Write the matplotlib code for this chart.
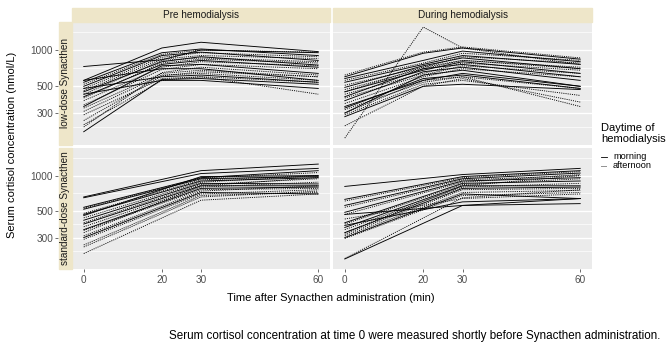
import matplotlib.pyplot as plt
from matplotlib.lines import Line2D
from matplotlib.patches import Rectangle

plt.rcParams["font.family"] = ["Liberation Sans", "DejaVu Sans"]

# time points (min)
t_low = [0, 20, 30, 60]
t_std = [0, 30, 60]

# low-dose, pre hemodialysis: [t0, t20, t30, t60]
pre_low = [
    [730, 830, 1000, 950], [560, 1040, 1160, 970], [540, 950, 1020, 900],
    [520, 920, 1000, 960], [500, 900, 960, 820], [480, 870, 950, 880],
    [460, 840, 900, 850], [450, 800, 880, 750], [430, 820, 860, 800],
    [410, 760, 820, 720], [400, 780, 840, 780], [380, 720, 800, 740],
    [560, 700, 700, 560], [350, 690, 760, 700], [330, 640, 680, 600],
    [480, 600, 620, 540], [310, 620, 640, 560], [290, 580, 600, 540],
    [430, 560, 560, 480], [260, 610, 660, 600], [240, 560, 600, 430],
    [210, 570, 580, 520], [230, 650, 720, 620], [340, 740, 760, 640],
]
pre_low_daytime = ["m", "m", "m", "a", "m", "a", "a", "m", "a", "m", "a", "a",
                   "m", "a", "a", "m", "a", "a", "m", "a", "a", "m", "a", "m"]

# low-dose, during hemodialysis
dur_low = [
    [620, 960, 1060, 860], [600, 940, 1040, 840], [580, 820, 980, 800],
    [560, 780, 940, 820], [540, 760, 900, 760], [510, 720, 880, 780],
    [490, 740, 860, 700], [470, 700, 820, 720], [450, 680, 800, 640],
    [430, 640, 780, 680], [410, 700, 760, 600], [400, 620, 740, 640],
    [380, 660, 720, 560], [360, 600, 700, 600], [340, 560, 640, 500],
    [320, 540, 600, 480], [300, 620, 680, 500], [290, 520, 560, 420],
    [280, 500, 520, 470], [235, 500, 580, 370], [186, 1550, 1040, 760],
    [300, 560, 600, 340], [330, 580, 620, 480], [450, 720, 820, 700],
]
dur_low_daytime = ["a", "m", "m", "a", "m", "a", "m", "a", "m", "a", "m", "a",
                   "m", "a", "m", "a", "m", "a", "m", "a", "a", "a", "m", "a"]

# standard-dose, pre hemodialysis: [t0, t30, t60]
pre_std = [
    [660, 1100, 1250], [650, 1040, 1150], [540, 960, 1100], [530, 950, 1060],
    [520, 940, 980], [480, 920, 1000], [470, 900, 960], [440, 880, 1000],
    [420, 860, 850], [400, 840, 940], [390, 820, 820], [370, 800, 880],
    [350, 780, 800], [345, 760, 780], [310, 740, 820], [300, 720, 700],
    [290, 700, 760], [260, 680, 720], [250, 660, 740], [220, 620, 700],
    [460, 980, 1000], [330, 820, 960],
]
pre_std_daytime = ["m", "m", "m", "a", "m", "a", "m", "a", "m", "a", "m",
                   "a", "m", "a", "a", "m", "a", "a", "a", "a", "m", "a"]

# standard-dose, during hemodialysis
dur_std = [
    [810, 1020, 1150], [630, 980, 1100], [610, 960, 1080], [560, 940, 1050],
    [540, 920, 1000], [490, 900, 960], [470, 880, 1020], [400, 860, 900],
    [390, 840, 940], [365, 820, 820], [350, 800, 860], [330, 780, 800],
    [320, 760, 780], [310, 720, 750], [300, 700, 640], [295, 680, 720],
    [198, 560, 580], [200, 650, 760], [470, 560, 640], [430, 640, 700],
    [380, 600, 640], [330, 820, 1000],
]
dur_std_daytime = ["m", "m", "a", "m", "a", "m", "a", "m", "a", "m", "a",
                   "m", "a", "a", "m", "a", "m", "a", "m", "a", "m", "a"]

col_titles = ["Pre hemodialysis", "During hemodialysis"]
row_titles = ["low-dose Synacthen", "standard-dose Synacthen"]
legend_labels = ["morning", "afternoon"]
y_breaks = [300, 500, 1000]
y_minor = [232, 387, 707, 1414]
x_breaks = [0, 20, 30, 60]

W, H = 669, 347
fig = plt.figure(figsize=(W / 100, H / 100), dpi=100)

panel_x = [(72, 330), (333, 592)]
panel_y = [(22, 145), (148, 269)]
strip_fill = "#EEE6C9"
styles = {"m": "-", "a": (0, (1.2, 1.2))}

panels = [
    [(t_low, pre_low, pre_low_daytime), (t_low, dur_low, dur_low_daytime)],
    [(t_std, pre_std, pre_std_daytime), (t_std, dur_std, dur_std_daytime)],
]

for r in range(2):
    for c in range(2):
        x0, x1 = panel_x[c]
        y0, y1 = panel_y[r]
        ax = fig.add_axes([x0 / W, 1 - y1 / H, (x1 - x0) / W, (y1 - y0) / H])
        ax.set_facecolor("#EBEBEB")
        ax.set_yscale("log")
        ax.set_ylim(163, 1708)
        ax.set_xlim(-3, 63)
        for v in y_minor:
            ax.axhline(v, color="white", lw=0.5, zorder=0)
        for v in y_breaks:
            ax.axhline(v, color="white", lw=1.0, zorder=0)
        t, vals, day = panels[r][c]
        for row, d in zip(vals, day):
            ax.plot(t, row, color="black", lw=0.65, ls=styles[d], zorder=2)
        for s in ax.spines.values():
            s.set_visible(False)
        ax.yaxis.set_minor_locator(plt.NullLocator())
        ax.set_yticks(y_breaks)
        ax.set_yticklabels([str(v) for v in y_breaks] if c == 0 else [])
        ax.spines["left"].set_position(("outward", 10))
        ax.tick_params(axis="y", length=2.5 if c == 0 else 0, width=0.5,
                       color="#333333", labelsize=7.2, labelcolor="#4D4D4D", pad=1)
        ax.set_xticks(x_breaks)
        ax.set_xticklabels([str(v) for v in x_breaks] if r == 1 else [])
        ax.tick_params(axis="x", length=2.5 if r == 1 else 0, width=0.5,
                       color="#333333", labelsize=7.2, labelcolor="#4D4D4D", pad=1.5)
        if r == 0:
            fig.patches.append(Rectangle((x0 / W, 1 - 22 / H), (x1 - x0) / W, 14 / H,
                                         transform=fig.transFigure, color=strip_fill))
            fig.text((x0 + x1) / 2 / W, 1 - 15 / H, col_titles[c], ha="center",
                     va="center", fontsize=7.2, color="#1A1A1A")
        if c == 0:
            fig.patches.append(Rectangle((59 / W, 1 - y1 / H), 13 / W, (y1 - y0) / H,
                                         transform=fig.transFigure, color=strip_fill))
            fig.text(65.5 / W, 1 - (y0 + y1) / 2 / H, row_titles[r], ha="center",
                     va="center", rotation=90, fontsize=7.2, color="#1A1A1A")

fig.text(331 / W, 1 - 298 / H, "Time after Synacthen administration (min)",
         ha="center", va="center", fontsize=8)
fig.text(12 / W, 1 - 145 / H, "Serum cortisol concentration (nmol/L)",
         ha="center", va="center", rotation=90, fontsize=8)
fig.text(660 / W, 1 - 336 / H,
         "Serum cortisol concentration at time 0 were measured shortly before Synacthen administration.",
         ha="right", va="center", fontsize=8.4)

# legend drawn by hand to match ggplot spacing
fig.text(601 / W, 1 - 123 / H, "Daytime of\nhemodialysis", ha="left", va="top",
         fontsize=8, linespacing=1.1)
for i, (key, lab) in enumerate(zip(["m", "a"], legend_labels)):
    yk = 1 - (157 + 9 * i) / H
    fig.add_artist(Line2D([601 / W, 607 / W], [yk, yk], transform=fig.transFigure,
                          color="black", lw=0.6, ls=styles[key]))
    fig.text(613 / W, yk, lab, ha="left", va="center", fontsize=6.6)

fig.savefig("out.png", dpi=100)
